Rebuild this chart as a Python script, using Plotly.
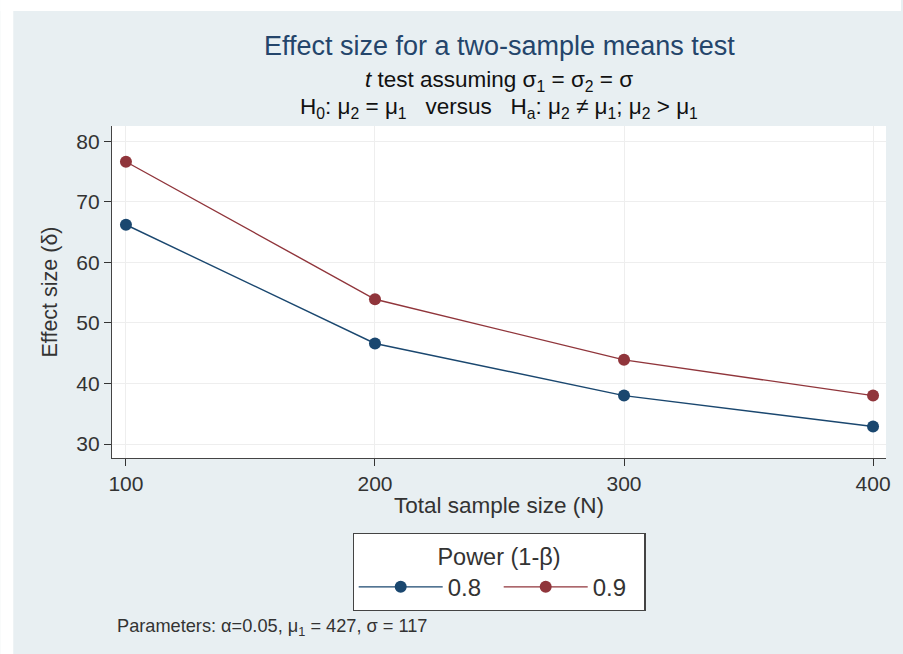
import plotly.graph_objects as go

# Data
sample_size = [100, 200, 300, 400]
power_labels = ["0.8", "0.9"]
delta_p08 = [66.2, 46.6, 38.0, 32.9]
delta_p09 = [76.6, 53.9, 43.9, 38.0]
x_ticks = [100, 200, 300, 400]
y_ticks = [30, 40, 50, 60, 70, 80]

FONT = "Liberation Sans, Arial, sans-serif"
BG = "#e8eff2"
NAVY = "#1a476f"
MAROON = "#90353b"

fig = go.Figure()
for lab, vals, col in [(power_labels[0], delta_p08, NAVY), (power_labels[1], delta_p09, MAROON)]:
    fig.add_trace(go.Scatter(
        x=sample_size, y=vals, name=lab, mode="lines+markers",
        line=dict(color=col, width=1.4),
        marker=dict(color=col, size=12),
    ))

W, H = 903, 654
ml, mr, mt, mb = 112, 15, 126, 196
pw, ph = W - ml - mr, H - mt - mb

fig.update_layout(
    width=W, height=H,
    margin=dict(l=ml, r=mr, t=mt, b=mb, pad=0),
    paper_bgcolor=BG, plot_bgcolor="white",
    font=dict(family=FONT, color="#333333", size=17),
    xaxis=dict(
        range=[94.4, 405.2], tickvals=x_ticks, ticks="outside", ticklen=7,
        tickcolor="#333", showline=True, linecolor="#444", linewidth=1.2,
        showgrid=True, gridcolor="#eeeeee", zeroline=False,
        tickfont=dict(size=21, color="#333"),
        title=dict(text="Total sample size (N)", font=dict(size=22.5, color="#333"), standoff=2),
    ),
    yaxis=dict(
        range=[27.7, 82.5], tickvals=y_ticks, ticks="outside", ticklen=7,
        tickcolor="#333", showline=True, linecolor="#444", linewidth=1.2,
        showgrid=True, gridcolor="#eeeeee", zeroline=False,
        tickfont=dict(size=21, color="#333"),
        title=dict(text="Effect size (δ)", font=dict(size=21.5, color="#333"), standoff=12),
    ),
    legend=dict(
        orientation="h", x=0.5, xanchor="center", y=(458 - 533) / ph, yanchor="top",
        bgcolor="white", bordercolor="#444", borderwidth=1.2,
        font=dict(size=24, color="#333"),
        title=dict(text="Power (1-β)", side="top center", font=dict(size=23.5, color="#333")),
        itemwidth=84, entrywidth=46, entrywidthmode="pixels", traceorder="normal",
    ),
    showlegend=True,
)

def py(pix):
    return (H - mb - pix) / ph

def px(pix):
    return (pix - ml) / pw

NB = "&nbsp;"
anns = [
    dict(text="Effect size for a two-sample means test", x=px(501), y=py(46),
         font=dict(size=27, color="#24456b")),
    dict(text="<i>t</i> test assuming σ<sub>1</sub> = σ<sub>2</sub> = σ", x=px(500), y=py(81),
         font=dict(size=22.5, color="#111")),
    dict(text="H<sub>0</sub>: μ<sub>2</sub> = μ<sub>1</sub>" + NB * 3 + "versus" + NB * 3 +
              "H<sub>a</sub>: μ<sub>2</sub> ≠ μ<sub>1</sub>; μ<sub>2</sub> > μ<sub>1</sub>",
         x=px(500), y=py(108), font=dict(size=22.5, color="#111")),
]
for a in anns:
    fig.add_annotation(xref="paper", yref="paper", showarrow=False, xanchor="center",
                       yanchor="middle", **a)

fig.add_annotation(xref="paper", yref="paper", showarrow=False, xanchor="left", yanchor="middle",
                   x=px(115), y=py(627),
                   text="Parameters: α=0.05, μ<sub>1</sub> = 427, σ = 117",
                   font=dict(size=18.2, color="#333"))

# white outer strips (top and left)
fig.add_shape(type="rect", xref="paper", yref="paper", x0=px(0), x1=px(W), y0=py(0), y1=py(11),
              fillcolor="white", line=dict(width=0), layer="below")
fig.add_shape(type="rect", xref="paper", yref="paper", x0=px(0), x1=px(13), y0=py(0), y1=py(H),
              fillcolor="white", line=dict(width=0), layer="below")

fig.write_html("out.html")
